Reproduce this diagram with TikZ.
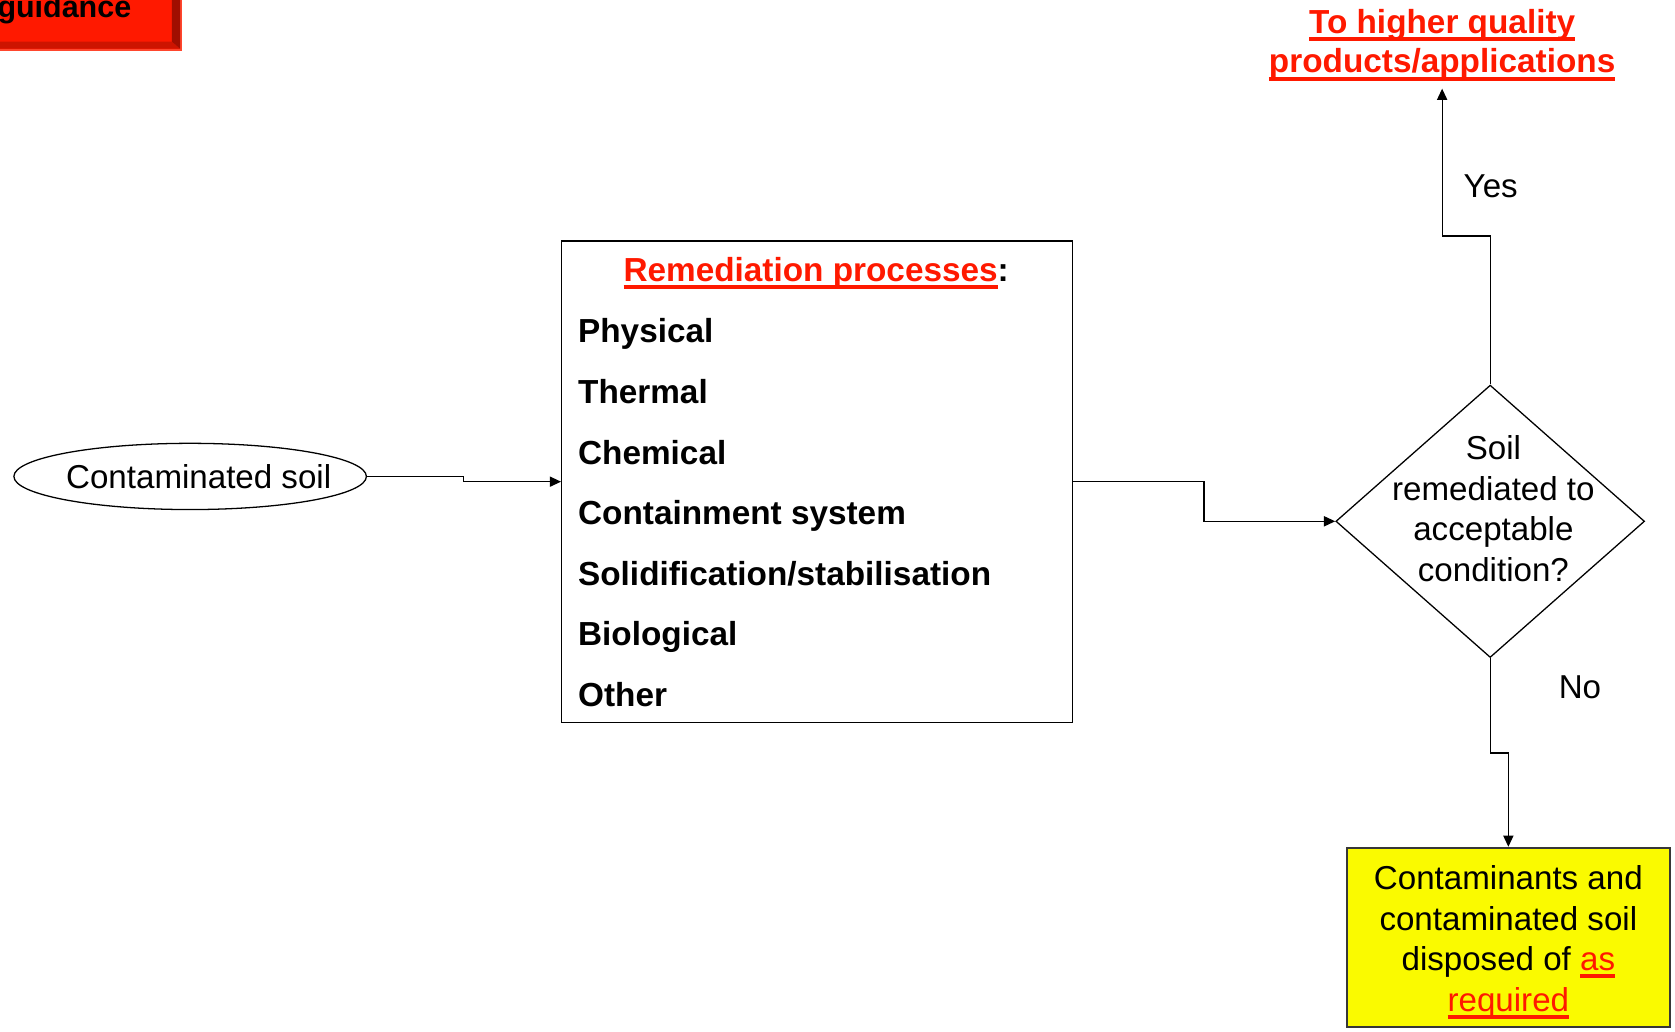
\documentclass[tikz,border=0pt]{standalone}
\usepackage{fontspec}
\setmainfont{Liberation Sans}
\usetikzlibrary{shapes.geometric,arrows.meta}

\definecolor{alarm}{RGB}{255,25,0}
\definecolor{alarmdark}{RGB}{205,20,0}
\definecolor{alarmdeep}{RGB}{160,14,0}
\definecolor{alarmedge}{RGB}{255,70,45}
\definecolor{noteyellow}{RGB}{250,250,0}
\definecolor{frame}{RGB}{55,55,55}

% underline drawn in the current colour, below the baseline
\newcommand{\uln}[1]{\leavevmode\setbox0=\hbox{#1}\rlap{\rule[-0.23em]{\wd0}{0.12em}}\box0}

\begin{document}
\begin{tikzpicture}[x=1pt,y=-1pt,
  every node/.style={font=\fontsize{31}{37}\selectfont, text=black},
  boldtext/.style={font=\fontsize{31.2}{37}\selectfont\bfseries},
  link/.style={line width=1.2pt, -{Triangle[length=10.5pt,width=9.5pt]}},
  outline/.style={draw=black, line width=1.2pt}]

\useasboundingbox (0,0) rectangle (1568,966);

% bevelled red button in the corner
\fill[alarmedge] (-10,-10) rectangle (170,47.5);
\fill[alarm] (-10,-10) rectangle (168.5,45.5);
\fill[alarmdark] (-10,39) -- (161,39) -- (168.5,45.5) -- (-10,45.5) -- cycle;
\fill[alarmdeep] (161,-10) -- (168.5,-10) -- (168.5,45.5) -- (161,39) -- cycle;
\node[anchor=base east, inner sep=0, font=\fontsize{28.5}{30}\selectfont\bfseries] (guide) at (123,16.5) {guidance};

% start node
\node[ellipse, outline, minimum width=330pt, minimum height=62pt, inner sep=0] (soil) at (178,446) {};
\node[inner sep=0] (soillabel) at (186,446) {Contaminated soil};

% process box with its list
\node[outline, minimum width=478.4pt, minimum height=450.6pt, inner sep=0] (rem) at (765,450.9) {};
\node[boldtext, anchor=base west, inner sep=0] (remtitle) at (583.5,263.7)
  {\textcolor{alarm}{\uln{Remediation processes}}:};
\foreach [count=\i] \t in {Physical,Thermal,Chemical,Containment system,Solidification/stabilisation,Biological,Other}
  \node[boldtext, anchor=base west, inner sep=0] (item\i) at (541,{321+(\i-1)*56.7}) {\t};

% decision
\node[diamond, outline, minimum width=289pt, minimum height=255pt, inner sep=0] (dec) at (1395,488) {};
\node[align=center, font=\fontsize{31}{38}\selectfont, inner sep=0] (dectext) at (1398,476)
  {Soil\\remediated to\\acceptable\\condition?};

% outcomes
\node[boldtext, align=center, text=alarm, inner sep=0] (hq) at (1350,42)
  {\uln{To higher quality}\\\uln{products/applications}};
\coordinate (hqin) at (1350,83);

\node[draw=frame, line width=1.6pt, fill=noteyellow, minimum width=302.7pt, minimum height=168pt, inner sep=0] (disp) at (1412,877.5) {};
\node[align=center, font=\fontsize{31}{38}\selectfont, inner sep=0] (disptext) at (1412,882)
  {Contaminants and\\contaminated soil\\disposed of \textcolor{alarm}{\uln{as}}\\\textcolor{alarm}{\uln{required}}};

% connectors
\draw[link] (soil.east) -- (434,446) |- (rem.west);
\draw[link] (rem.east) -- (1127,450.9) |- (dec.west);
\draw[link] (dec.north) -- (1395,221) -| (hqin);
\draw[link] (dec.south) -- (1395,705) -| (disp.north);

\node[anchor=base west, inner sep=0] (yes) at (1370,184.7) {Yes};
\node[anchor=base west, inner sep=0] (no) at (1459,653.5) {No};
\end{tikzpicture}
\end{document}
